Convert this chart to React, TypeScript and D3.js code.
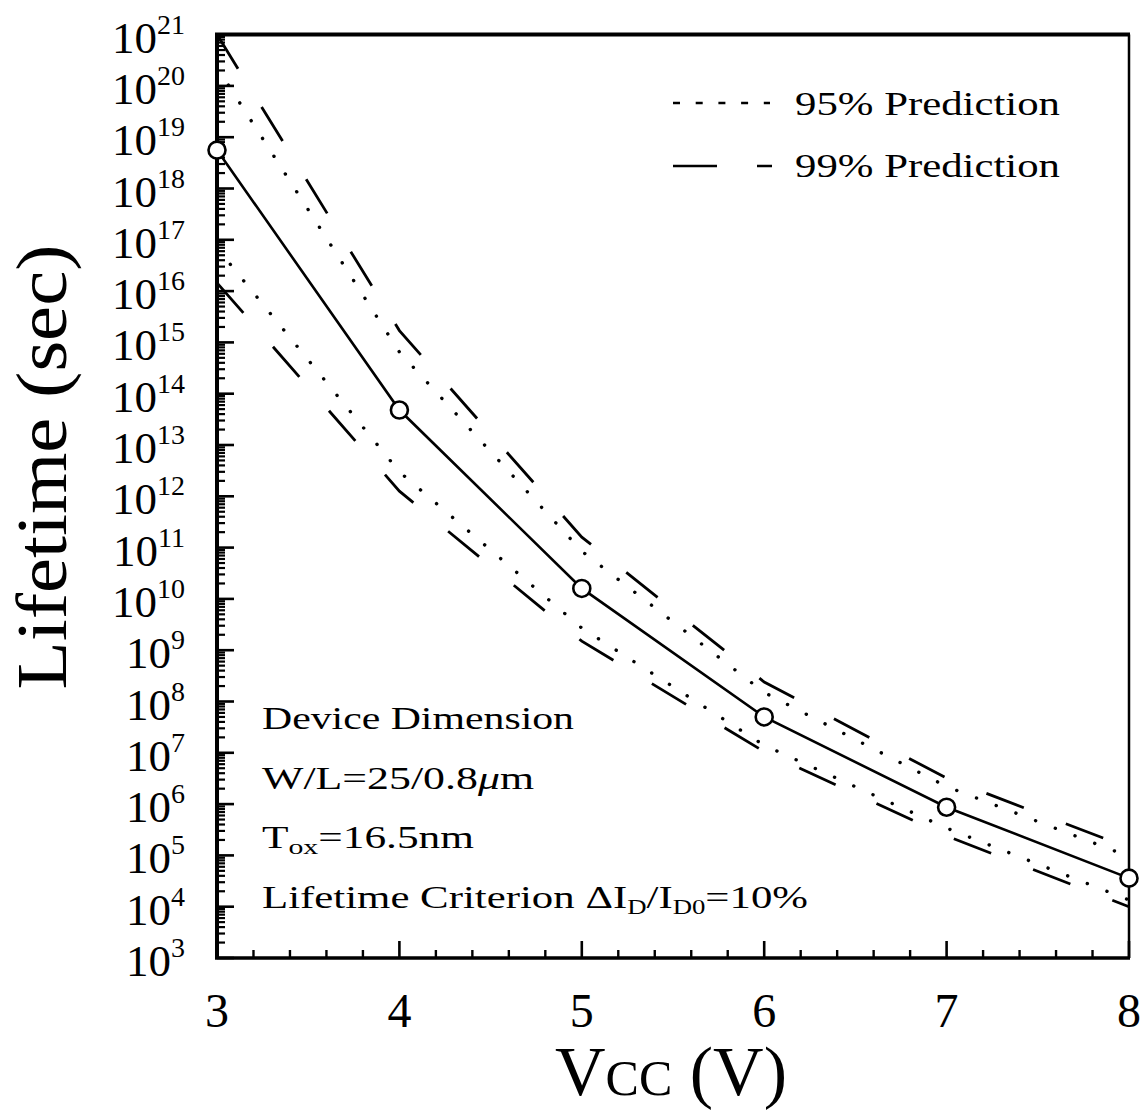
import React from "react";
import * as d3 from "d3";

const vcc = [3, 4, 5, 6, 7, 8];
const lifetime = [5.6e18, 4.8e13, 1.6e10, 5.0e7, 8.7e5, 3.6e4];
const upper95 = [2.3e20, 6.5e14, 8.5e10, 1.5e8, 2.2e6, 9.5e4];
const lower95 = [6.9e16, 3.0e12, 2.7e9, 1.4e7, 3.4e5, 1.35e4];
const upper99 = [1.0e21, 1.7e15, 1.6e11, 2.4e8, 3.2e6, 1.4e5];
const lower99 = [1.45e16, 1.26e12, 1.5e9, 1.05e7, 2.4e5, 1.0e4];

const xTicks = [3, 4, 5, 6, 7, 8];
const yExponents = d3.range(3, 22);
const legendLabels = ["95% Prediction", "99% Prediction"];
const noteLines = ["Device Dimension", "W/L=25/0.8μm", "Tox=16.5nm", "Lifetime Criterion"];

const FONT = "'Liberation Serif', 'Times New Roman', serif";

export default function App() {
  const W = 1144, H = 1118;
  const x = d3.scaleLinear().domain([3, 8]).range([217, 1129]);
  const y = d3.scaleLog().domain([1e3, 1e21]).range([958, 34.6]);

  const mk = (vals: number[]) =>
    d3.line<number>()
      .x((_, i) => x(vcc[i]))
      .y((v) => y(v))
      .curve(d3.curveLinear)(vals) as string;

  const minorX = d3.range(3, 8.0001, 0.2).filter((v) => Math.abs(v - Math.round(v)) > 1e-6);
  const minorY: number[] = [];
  for (let e = 3; e < 21; e++) for (let m = 2; m <= 9; m++) minorY.push(m * Math.pow(10, e));

  const x0 = x(3), x1 = x(8), yB = y(1e3), yT = y(1e21);

  return (
    <svg width={W} height={H} style={{ position: "absolute", left: 0, top: 0, background: "#fff" }}
      fontFamily={FONT}>
      <rect x={0} y={0} width={W} height={H} fill="#fff" />

      {/* y ticks */}
      {minorY.map((v, i) => (
        <line key={"my" + i} x1={x0} x2={x0 + 8} y1={y(v)} y2={y(v)} stroke="#000" strokeWidth={2.2} />
      ))}
      {yExponents.map((e) => (
        <line key={"My" + e} x1={x0} x2={x0 + 17} y1={y(Math.pow(10, e))} y2={y(Math.pow(10, e))} stroke="#000" strokeWidth={2.6} />
      ))}
      {/* x ticks */}
      {minorX.map((v, i) => (
        <line key={"mx" + i} x1={x(v)} x2={x(v)} y1={yB} y2={yB - 8} stroke="#000" strokeWidth={2.4} />
      ))}
      {xTicks.map((v) => (
        <line key={"Mx" + v} x1={x(v)} x2={x(v)} y1={yB} y2={yB - 17} stroke="#000" strokeWidth={2.6} />
      ))}

      {/* frame */}
      <line x1={x0} x2={x0} y1={yT} y2={yB} stroke="#000" strokeWidth={4} />
      <line x1={x0 - 2} x2={x1 + 1} y1={yB} y2={yB} stroke="#000" strokeWidth={3.5} />
      <line x1={x0 - 2} x2={x1 + 1} y1={yT} y2={yT} stroke="#000" strokeWidth={4} />
      <line x1={x1} x2={x1} y1={yT} y2={yB} stroke="#000" strokeWidth={2.5} />

      {/* curves */}
      <path d={mk(upper95)} fill="none" stroke="#000" strokeWidth={3.4} strokeLinecap="round" strokeDasharray="0.1 21" />
      <path d={mk(lower95)} fill="none" stroke="#000" strokeWidth={3.4} strokeLinecap="round" strokeDasharray="0.1 21" />
      <path d={mk(upper99)} fill="none" stroke="#000" strokeWidth={2.8} strokeDasharray="40 45" />
      <path d={mk(lower99)} fill="none" stroke="#000" strokeWidth={2.8} strokeDasharray="40 45" />
      <path d={mk(lifetime)} fill="none" stroke="#000" strokeWidth={2.6} />
      {lifetime.map((v, i) => (
        <circle key={"c" + i} cx={x(vcc[i])} cy={y(v)} r={8.5} fill="#fff" stroke="#000" strokeWidth={2.6} />
      ))}

      {/* y tick labels */}
      {yExponents.map((e) => (
        <text key={"ly" + e} x={185} y={y(Math.pow(10, e)) + 18} textAnchor="end" fill="#000">
          <tspan fontSize={45}>10</tspan>
          <tspan fontSize={28} dy={-19}>{e}</tspan>
        </text>
      ))}
      {/* x tick labels */}
      {xTicks.map((v) => (
        <text key={"lx" + v} x={x(v)} y={1027} textAnchor="middle" fontSize={48} fill="#000">{v}</text>
      ))}

      {/* axis titles */}
      <text transform="translate(66,467) rotate(-90)" textAnchor="middle" fontSize={72} fill="#000"
        textLength={445} lengthAdjust="spacingAndGlyphs">Lifetime (sec)</text>
      <text x={555} y={1095} fontSize={70} fill="#000">
        V<tspan fontSize={50}>CC</tspan> (V)
      </text>

      {/* legend */}
      <line x1={673} x2={770} y1={103} y2={103} stroke="#000" strokeWidth={2.6} strokeDasharray="7 15.7" />
      <text x={795} y={115} fontSize={34} textLength={265} lengthAdjust="spacingAndGlyphs" fill="#000">{legendLabels[0]}</text>
      <line x1={673} x2={772} y1={166} y2={166} stroke="#000" strokeWidth={2.6} strokeDasharray="44 40 15 100" />
      <text x={795} y={177} fontSize={34} textLength={265} lengthAdjust="spacingAndGlyphs" fill="#000">{legendLabels[1]}</text>

      {/* annotation */}
      <text x={262} y={729} fontSize={32} textLength={312} lengthAdjust="spacingAndGlyphs" fill="#000">{noteLines[0]}</text>
      <text x={262} y={789} fontSize={32} textLength={272} lengthAdjust="spacingAndGlyphs" fill="#000">
        W/L=25/0.8<tspan fontStyle="italic">μ</tspan>m
      </text>
      <text x={262} y={848} fontSize={32} textLength={212} lengthAdjust="spacingAndGlyphs" fill="#000">
        T<tspan fontSize={22} dy={6}>ox</tspan><tspan dy={-6}>=16.5nm</tspan>
      </text>
      <text x={262} y={908} fontSize={32} textLength={546} lengthAdjust="spacingAndGlyphs" fill="#000">
        <tspan>Lifetime Criterion ΔI</tspan>
        <tspan fontSize={20} dy={6}>D</tspan>
        <tspan dy={-6}>/I</tspan>
        <tspan fontSize={20} dy={6}>D0</tspan>
        <tspan dy={-6}>=10%</tspan>
      </text>
    </svg>
  );
}
